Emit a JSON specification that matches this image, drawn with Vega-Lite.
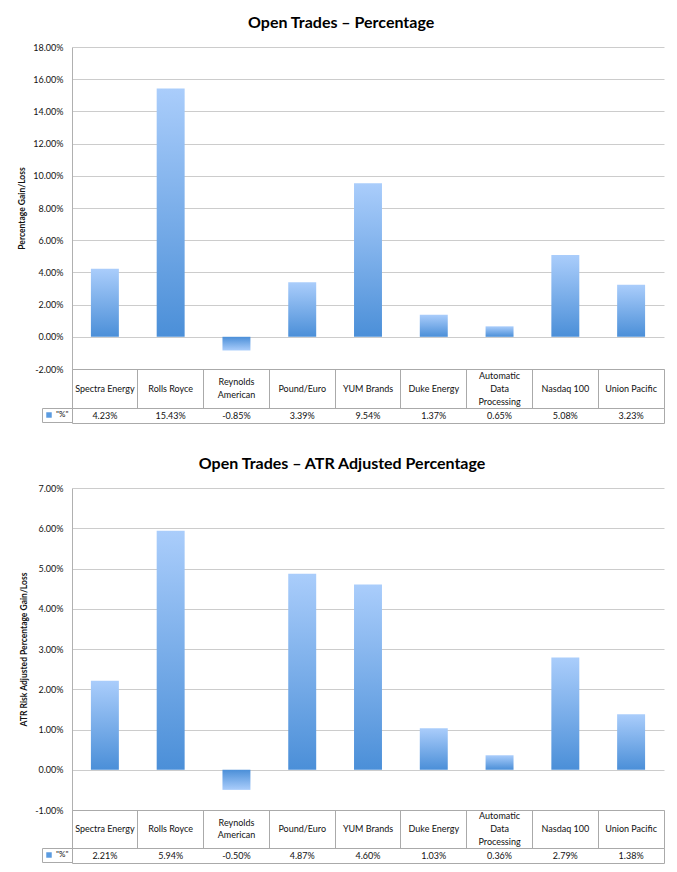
{
  "$schema": "https://vega.github.io/schema/vega-lite/v6.json",
  "padding": {"left": 17, "top": 15, "right": 5, "bottom": 3},
  "config": {
    "locale": {"number": {"decimal": ".", "thousands": ",", "grouping": [3], "currency": ["$", ""], "minus": "-"}},
    "font": "Lato",
    "view": {"stroke": null},
    "axis": {"labelColor": "#111", "titleColor": "#111", "labelFont": "Lato", "titleFont": "Lato"},
    "title": {"font": "Lato", "color": "#000"}
  },
  "datasets": {
    "pct": [
      {"name": "Spectra Energy", "v": 0.0423},
      {"name": "Rolls Royce", "v": 0.1543},
      {"name": "Reynolds American", "v": -0.0085},
      {"name": "Pound/Euro", "v": 0.0339},
      {"name": "YUM Brands", "v": 0.0954},
      {"name": "Duke Energy", "v": 0.0137},
      {"name": "Automatic Data Processing", "v": 0.0065},
      {"name": "Nasdaq 100", "v": 0.0508},
      {"name": "Union Pacific", "v": 0.0323}
    ],
    "atr": [
      {"name": "Spectra Energy", "v": 0.0221},
      {"name": "Rolls Royce", "v": 0.0594},
      {"name": "Reynolds American", "v": -0.005},
      {"name": "Pound/Euro", "v": 0.0487},
      {"name": "YUM Brands", "v": 0.046},
      {"name": "Duke Energy", "v": 0.0103},
      {"name": "Automatic Data Processing", "v": 0.0036},
      {"name": "Nasdaq 100", "v": 0.0279},
      {"name": "Union Pacific", "v": 0.0138}
    ],
    "labels": [
      {"name": "Spectra Energy", "c": "Spectra Energy"},
      {"name": "Rolls Royce", "c": "Rolls Royce"},
      {"name": "Reynolds American", "u": "Reynolds", "d": "American"},
      {"name": "Pound/Euro", "c": "Pound/Euro"},
      {"name": "YUM Brands", "c": "YUM Brands"},
      {"name": "Duke Energy", "c": "Duke Energy"},
      {"name": "Automatic Data Processing", "t": "Automatic", "c": "Data", "b": "Processing"},
      {"name": "Nasdaq 100", "c": "Nasdaq 100"},
      {"name": "Union Pacific", "c": "Union Pacific"}
    ]
  },
  "spacing": 32,
  "resolve": {"scale": {"color": "independent"}, "legend": {"color": "independent"}},
  "vconcat": [
    {
      "title": {"text": "Open Trades – Percentage", "fontSize": 16, "fontWeight": "bold", "anchor": "middle", "offset": 12},
      "spacing": 0,
      "bounds": "flush",
      "resolve": {"scale": {"color": "independent"}, "legend": {"color": "independent"}},
      "vconcat": [
        {
          "data": {"name": "pct"},
          "width": 592,
          "height": 322,
          "mark": {"type": "bar"},
          "encoding": {
            "x": {"field": "name", "type": "nominal", "sort": null, "scale": {"type": "band", "paddingInner": 0.575, "paddingOuter": 0.2875}, "axis": null},
            "y": {
              "field": "v", "type": "quantitative",
              "scale": {"domain": [-0.02, 0.18], "nice": false},
              "axis": {
                "values": [-0.02, 0, 0.02, 0.04, 0.06, 0.08, 0.1, 0.12, 0.14, 0.16, 0.18],
                "format": ".2%", "title": "Percentage Gain/Loss",
                "grid": true, "gridColor": "#cccccc", "domainColor": "#b0b0b0",
                "ticks": false, "labelPadding": 9, "labelFontSize": 9,
                "titleFontSize": 8.5, "titleFontWeight": "bold", "titlePadding": 6
              }
            },
            "fill": {
              "condition": {"test": "datum.v < 0", "value": {"gradient": "linear", "x1": 0, "y1": 1, "x2": 0, "y2": 0, "stops": [{"offset": 0, "color": "#aacdfb"}, {"offset": 1, "color": "#4b8fd8"}]}},
              "value": {"gradient": "linear", "x1": 0, "y1": 0, "x2": 0, "y2": 1, "stops": [{"offset": 0, "color": "#aacdfb"}, {"offset": 1, "color": "#4b8fd8"}]}
            }
          }
        },
        {
          "data": {"name": "labels"},
          "transform": [
            {"fold": ["t", "u", "c", "d", "b"], "as": ["slot", "line"]},
            {"filter": "isValid(datum.line)"}
          ],
          "width": 592,
          "height": 39,
          "view": {"stroke": "#aaaaaa"},
          "mark": {"type": "text", "fontSize": 9, "color": "#111"},
          "encoding": {
            "x": {"field": "name", "type": "nominal", "sort": null, "scale": {"type": "band", "padding": 0}, "axis": {"grid": true, "bandPosition": 0, "gridColor": "#aaaaaa", "labels": false, "ticks": false, "domain": false, "title": null}},
            "y": {"field": "slot", "type": "ordinal", "scale": {"type": "point", "domain": ["t", "u", "c", "d", "b"], "padding": 1.25}, "axis": null},
            "text": {"field": "line"}
          }
        },
        {
          "data": {"name": "pct"},
          "width": 592,
          "height": 15,
          "view": {"stroke": "#aaaaaa"},
          "layer": [
            {
              "mark": {"type": "text", "fontSize": 9, "color": "#111"},
              "encoding": {
                "x": {"field": "name", "type": "nominal", "sort": null, "scale": {"type": "band", "padding": 0}, "axis": {"grid": true, "bandPosition": 0, "gridColor": "#aaaaaa", "labels": false, "ticks": false, "domain": false, "title": null}},
                "text": {"field": "v", "format": ".2%"}
              }
            },
            {
              "mark": {"type": "text"},
              "encoding": {
                "x": {"field": "name", "type": "nominal", "sort": null, "axis": null},
                "text": {"value": ""},
                "color": {"datum": "\"%\"", "type": "nominal", "scale": {"range": ["#5b9be0"]}, "legend": {"orient": "left", "title": null, "symbolType": "square", "symbolSize": 30, "labelFontSize": 8, "padding": 3, "strokeColor": "#aaaaaa", "offset": 0, "labelOffset": 3, "labelColor": "#111"}}
              }
            }
          ]
        }
      ]
    },
    {
      "title": {"text": "Open Trades – ATR Adjusted Percentage", "fontSize": 16, "fontWeight": "bold", "anchor": "middle", "offset": 12},
      "spacing": 0,
      "bounds": "flush",
      "resolve": {"scale": {"color": "independent"}, "legend": {"color": "independent"}},
      "vconcat": [
        {
          "data": {"name": "atr"},
          "width": 592,
          "height": 322,
          "mark": {"type": "bar"},
          "encoding": {
            "x": {"field": "name", "type": "nominal", "sort": null, "scale": {"type": "band", "paddingInner": 0.575, "paddingOuter": 0.2875}, "axis": null},
            "y": {
              "field": "v", "type": "quantitative",
              "scale": {"domain": [-0.01, 0.07], "nice": false},
              "axis": {
                "values": [-0.01, 0, 0.01, 0.02, 0.03, 0.04, 0.05, 0.06, 0.07],
                "format": ".2%", "title": "ATR Risk Adjusted Percentage Gain/Loss",
                "grid": true, "gridColor": "#cccccc", "domainColor": "#b0b0b0",
                "ticks": false, "labelPadding": 9, "labelFontSize": 9,
                "titleFontSize": 8.5, "titleFontWeight": "bold", "titlePadding": 6
              }
            },
            "fill": {
              "condition": {"test": "datum.v < 0", "value": {"gradient": "linear", "x1": 0, "y1": 1, "x2": 0, "y2": 0, "stops": [{"offset": 0, "color": "#aacdfb"}, {"offset": 1, "color": "#4b8fd8"}]}},
              "value": {"gradient": "linear", "x1": 0, "y1": 0, "x2": 0, "y2": 1, "stops": [{"offset": 0, "color": "#aacdfb"}, {"offset": 1, "color": "#4b8fd8"}]}
            }
          }
        },
        {
          "data": {"name": "labels"},
          "transform": [
            {"fold": ["t", "u", "c", "d", "b"], "as": ["slot", "line"]},
            {"filter": "isValid(datum.line)"}
          ],
          "width": 592,
          "height": 38,
          "view": {"stroke": "#aaaaaa"},
          "mark": {"type": "text", "fontSize": 9, "color": "#111"},
          "encoding": {
            "x": {"field": "name", "type": "nominal", "sort": null, "scale": {"type": "band", "padding": 0}, "axis": {"grid": true, "bandPosition": 0, "gridColor": "#aaaaaa", "labels": false, "ticks": false, "domain": false, "title": null}},
            "y": {"field": "slot", "type": "ordinal", "scale": {"type": "point", "domain": ["t", "u", "c", "d", "b"], "padding": 1.25}, "axis": null},
            "text": {"field": "line"}
          }
        },
        {
          "data": {"name": "atr"},
          "width": 592,
          "height": 15,
          "view": {"stroke": "#aaaaaa"},
          "layer": [
            {
              "mark": {"type": "text", "fontSize": 9, "color": "#111"},
              "encoding": {
                "x": {"field": "name", "type": "nominal", "sort": null, "scale": {"type": "band", "padding": 0}, "axis": {"grid": true, "bandPosition": 0, "gridColor": "#aaaaaa", "labels": false, "ticks": false, "domain": false, "title": null}},
                "text": {"field": "v", "format": ".2%"}
              }
            },
            {
              "mark": {"type": "text"},
              "encoding": {
                "x": {"field": "name", "type": "nominal", "sort": null, "axis": null},
                "text": {"value": ""},
                "color": {"datum": "\"%\"", "type": "nominal", "scale": {"range": ["#5b9be0"]}, "legend": {"orient": "left", "title": null, "symbolType": "square", "symbolSize": 30, "labelFontSize": 8, "padding": 3, "strokeColor": "#aaaaaa", "offset": 0, "labelOffset": 3, "labelColor": "#111"}}
              }
            }
          ]
        }
      ]
    }
  ]
}
